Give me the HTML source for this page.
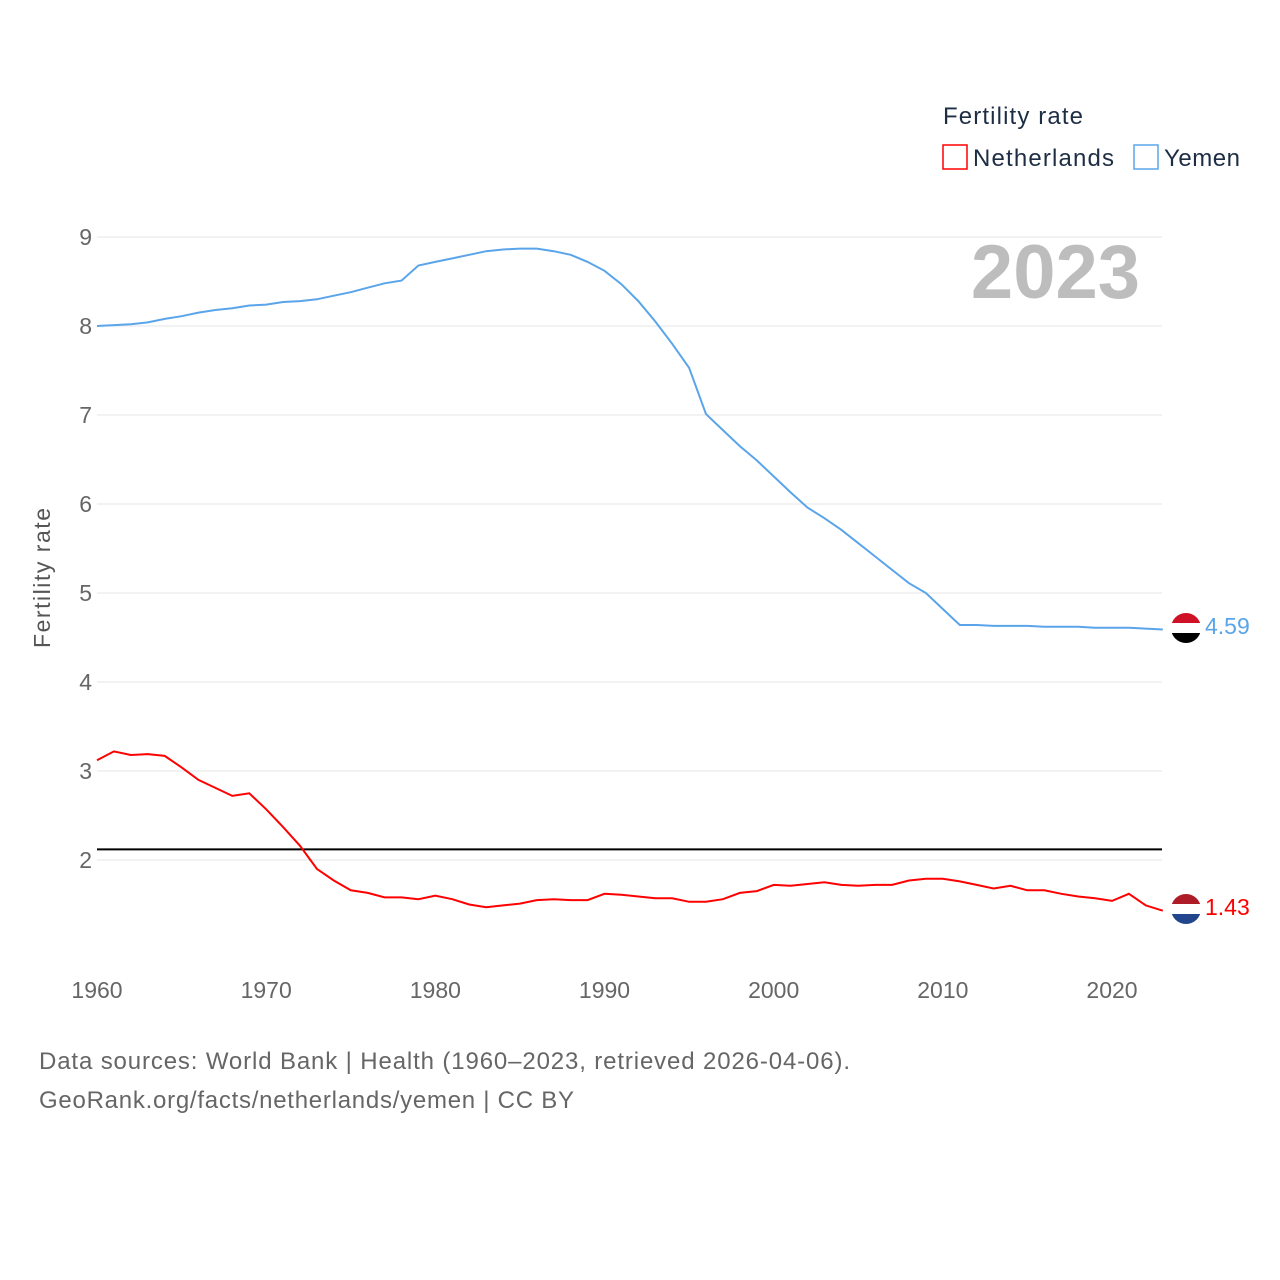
<!DOCTYPE html>
<html><head><meta charset="utf-8"><style>
body{margin:0;background:#fff;font-family:"Liberation Sans",sans-serif}
svg{display:block}
</style></head><body>
<svg id="chart" width="1280" height="1280" viewBox="0 0 1280 1280" xmlns="http://www.w3.org/2000/svg">
<g id="grid"></g>
<g id="yticks"></g>
<g id="xticks"></g>
<text transform="translate(50,578) rotate(-90)" text-anchor="middle" font-size="23" fill="#555" textLength="140">Fertility rate</text>
<text x="1140" y="298" text-anchor="end" font-size="76" font-weight="bold" fill="#bdbdbd">2023</text>
<g>
<text x="943" y="124" font-size="24" fill="#1d2d44" textLength="140">Fertility rate</text>
<rect x="943" y="145" width="24" height="24" fill="none" stroke="#ff0000" stroke-width="1.5"/>
<text x="973" y="166" font-size="24" fill="#1d2d44" textLength="141">Netherlands</text>
<rect x="1134" y="145" width="24" height="24" fill="none" stroke="#5aa5ea" stroke-width="1.5"/>
<text x="1164" y="166" font-size="24" fill="#1d2d44" textLength="76">Yemen</text>
</g>
<line id="refline" stroke="#000" stroke-width="2"/>
<path id="yemen" fill="none" stroke="#5aa5ea" stroke-width="2"/>
<path id="nl" fill="none" stroke="#ff0000" stroke-width="2"/>
<g>
<clipPath id="c1"><circle cx="1186" cy="628" r="15"/></clipPath>
<g clip-path="url(#c1)"><rect x="1170" y="612" width="32" height="11" fill="#ce1126"/><rect x="1170" y="623" width="32" height="10" fill="#fff"/><rect x="1170" y="633" width="32" height="12" fill="#000"/></g>
</g>
<g>
<clipPath id="c2"><circle cx="1186" cy="909" r="15"/></clipPath>
<g clip-path="url(#c2)"><rect x="1170" y="893" width="32" height="11" fill="#ae1c28"/><rect x="1170" y="904" width="32" height="10" fill="#fff"/><rect x="1170" y="914" width="32" height="12" fill="#21468b"/></g>
</g>
<text id="ylab" x="1205" y="634" font-size="23" fill="#5aa5ea">4.59</text>
<text id="nlab" x="1205" y="915" font-size="23" fill="#ff0000">1.43</text>
<text x="39" y="1069" font-size="24" fill="#666" textLength="811">Data sources: World Bank | Health (1960–2023, retrieved 2026-04-06).</text>
<text x="39" y="1108" font-size="24" fill="#666" textLength="535">GeoRank.org/facts/netherlands/yemen | CC BY</text>
</svg>
<script>
const startYear = 1960;
const yemenValues = [8.0,8.01,8.02,8.04,8.08,8.11,8.15,8.18,8.2,8.23,8.24,8.27,8.28,8.30,8.34,8.38,8.43,8.48,8.51,8.68,8.72,8.76,8.80,8.84,8.86,8.87,8.87,8.84,8.80,8.72,8.62,8.47,8.28,8.05,7.80,7.53,7.01,6.83,6.65,6.49,6.31,6.13,5.96,5.84,5.71,5.56,5.41,5.26,5.11,5.00,4.82,4.64,4.64,4.63,4.63,4.63,4.62,4.62,4.62,4.61,4.61,4.61,4.60,4.59];
const nlValues = [3.12,3.22,3.18,3.19,3.17,3.04,2.90,2.81,2.72,2.75,2.57,2.37,2.16,1.90,1.77,1.66,1.63,1.58,1.58,1.56,1.60,1.56,1.50,1.47,1.49,1.51,1.55,1.56,1.55,1.55,1.62,1.61,1.59,1.57,1.57,1.53,1.53,1.56,1.63,1.65,1.72,1.71,1.73,1.75,1.72,1.71,1.72,1.72,1.77,1.79,1.79,1.76,1.72,1.68,1.71,1.66,1.66,1.62,1.59,1.57,1.54,1.62,1.49,1.43];
const yTicks = [2,3,4,5,6,7,8,9];
const xTicks = [1960,1970,1980,1990,2000,2010,2020];
const refValue = 2.12;
const NS="http://www.w3.org/2000/svg";
const xs = yr => 97 + (yr-1960)*(1112-97)/60;
const ys = v => 237 + (9-v)*89;
const grid=document.getElementById('grid'), yt=document.getElementById('yticks'), xt=document.getElementById('xticks');
yTicks.forEach(v=>{
  const l=document.createElementNS(NS,'line');
  l.setAttribute('x1',97);l.setAttribute('x2',1162);l.setAttribute('y1',ys(v));l.setAttribute('y2',ys(v));
  l.setAttribute('stroke','#e6e6e6');l.setAttribute('stroke-width',1);
  
  
  grid.appendChild(l);
  const t=document.createElementNS(NS,'text');
  t.setAttribute('x',92);t.setAttribute('y',ys(v)+8);t.setAttribute('text-anchor','end');
  t.setAttribute('font-size',23);t.setAttribute('fill','#666');t.textContent=v;
  
  
  yt.appendChild(t);
});
xTicks.forEach(v=>{
  const t=document.createElementNS(NS,'text');
  t.setAttribute('x',xs(v));t.setAttribute('y',998);t.setAttribute('text-anchor','middle');
  t.setAttribute('font-size',23);t.setAttribute('fill','#666');t.textContent=v;
  
  
  xt.appendChild(t);
});
const rl=document.getElementById('refline');
rl.setAttribute('x1',97);rl.setAttribute('x2',1162);rl.setAttribute('y1',ys(refValue));rl.setAttribute('y2',ys(refValue));
const pathOf = arr => arr.map((v,i)=>(i?'L':'M')+xs(startYear+i).toFixed(1)+' '+ys(v).toFixed(1)).join(' ');
document.getElementById('yemen').setAttribute('d',pathOf(yemenValues));
document.getElementById('nl').setAttribute('d',pathOf(nlValues));
document.getElementById('ylab').textContent=yemenValues[yemenValues.length-1].toFixed(2);
document.getElementById('nlab').textContent=nlValues[nlValues.length-1].toFixed(2);
</script>
</body></html>
